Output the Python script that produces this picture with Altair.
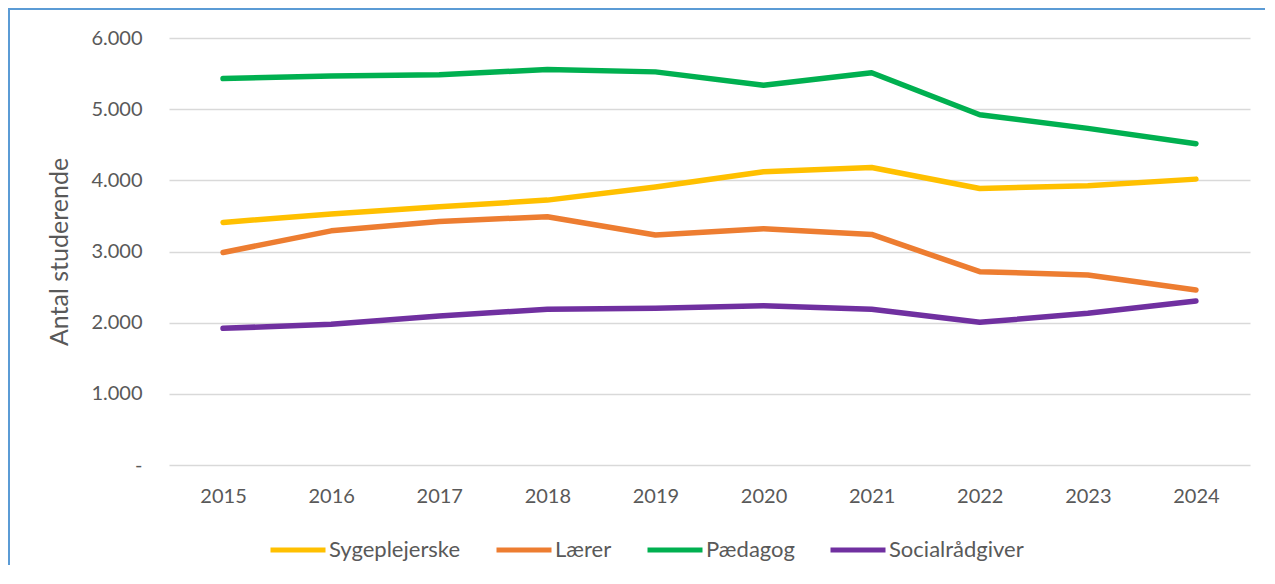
import altair as alt
import pandas as pd

years = ["2015", "2016", "2017", "2018", "2019", "2020", "2021", "2022", "2023", "2024"]
series_names = ["Sygeplejerske", "Lærer", "Pædagog", "Socialrådgiver"]
sygeplejerske = [3409, 3528, 3630, 3722, 3905, 4120, 4181, 3886, 3924, 4017]
laerer = [2986, 3290, 3421, 3489, 3231, 3320, 3240, 2716, 2670, 2459]
paedagog = [5430, 5465, 5485, 5557, 5524, 5337, 5512, 4922, 4730, 4515]
socialraadgiver = [1920, 1977, 2094, 2188, 2202, 2239, 2188, 2005, 2131, 2305]
colors = ["#FFC000", "#ED7D31", "#00B050", "#7030A0"]
y_ticks = [0, 1000, 2000, 3000, 4000, 5000, 6000]

rows = []
for name, vals in zip(series_names, [sygeplejerske, laerer, paedagog, socialraadgiver]):
    for yr, v in zip(years, vals):
        rows.append({"Aar": yr, "Uddannelse": name, "Antal": v})
df = pd.DataFrame(rows)

FONT = "Lato"
W, H = 1081, 427
PAD = {"left": 161, "top": 30, "right": 15, "bottom": 100}

lines = alt.Chart(df).mark_line(strokeWidth=5.5, strokeCap="round", strokeJoin="round").encode(
    x=alt.X("Aar:O", scale=alt.Scale(type="point", padding=0.5), sort=years,
            axis=alt.Axis(title=None, labelAngle=0, domain=False, ticks=False,
                          labelPadding=21, labelFontSize=20, labelColor="#595959",
                          labelFont=FONT)),
    y=alt.Y("Antal:Q", scale=alt.Scale(domain=[0, 6000], nice=False),
            axis=alt.Axis(title="Antal studerende", values=y_ticks, domain=False, ticks=False,
                          labelExpr="datum.value == 0 ? '-' : replace(format(datum.value, ',d'), ',', '.')",
                          labelPadding=27, labelFontSize=20, labelColor="#595959", labelFont=FONT,
                          gridColor="#D9D9D9", gridWidth=1.5,
                          titleFont=FONT, titleFontSize=25, titleFontWeight="normal",
                          titleColor="#595959", titleAngle=-90, titleX=-110, titleY=213.5,
                          titleAlign="center", titleBaseline="middle")),
    color=alt.Color("Uddannelse:N", scale=alt.Scale(domain=series_names, range=colors),
                    legend=alt.Legend(title=None, orient="none", direction="horizontal",
                                      legendX=99, legendY=482, symbolType="stroke",
                                      symbolStrokeWidth=5, symbolSize=3025, labelOffset=1,
                                      columnPadding=25, labelFontSize=22, labelFont=FONT,
                                      labelColor="#595959", padding=0)),
    order=alt.Order("Aar:O"),
)

frame_df = pd.DataFrame({"k": [0]})
top_rule = alt.Chart(frame_df).mark_rule(color="#5B9BD5", strokeWidth=2).encode(
    x=alt.value(-161), x2=alt.value(W + PAD["right"]), y=alt.value(-29)
)
left_rule = alt.Chart(frame_df).mark_rule(color="#5B9BD5", strokeWidth=2).encode(
    x=alt.value(-160), y=alt.value(-30), y2=alt.value(H + PAD["bottom"])
)

chart = alt.layer(lines, top_rule, left_rule).properties(
    width=W, height=H, autosize=alt.AutoSizeParams(type="none"), padding=PAD
).configure(background="white").configure_view(stroke=None)

chart.save("out.html", embed_options={"renderer": "svg", "actions": False})
